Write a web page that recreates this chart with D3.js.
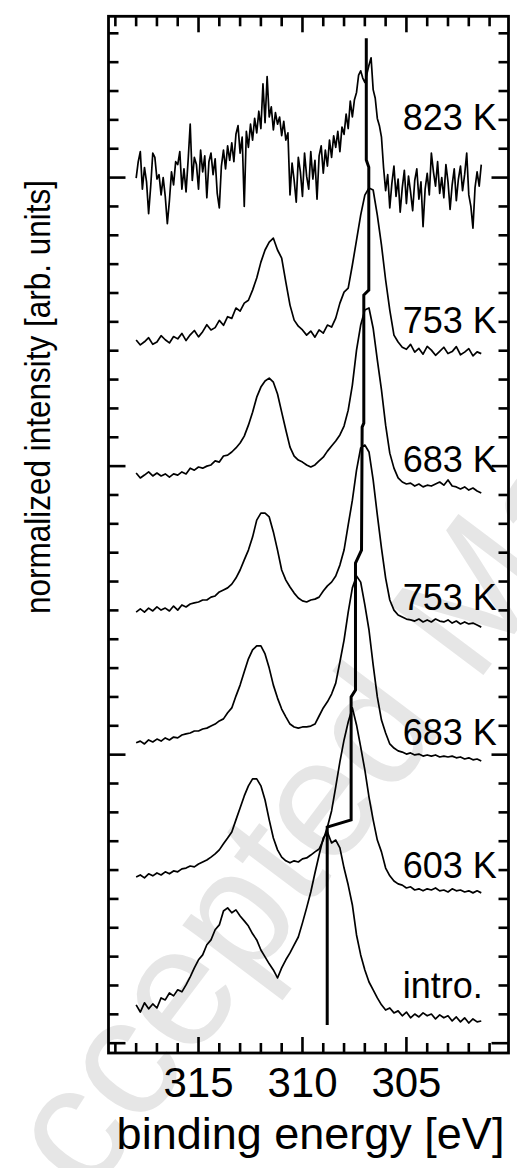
<!DOCTYPE html>
<html>
<head>
<meta charset="utf-8">
<script src="https://cdn.jsdelivr.net/npm/d3@7"></script>
<style>
  html, body { margin: 0; padding: 0; background: #fff; }
  text { font-family: "Liberation Sans", Arial, Helvetica, sans-serif; }
</style>
</head>
<body>
<svg id="chart" width="517" height="1168"></svg>
<script>
// binding energy grids of the spectra (eV), 318.0 down to 301.4
const energy = d3.range(0, 84).map(function(i) { return +(318 - 0.2 * i).toFixed(1); });
const energyFine = d3.range(0, 167).map(function(i) { return +(318 - 0.1 * i).toFixed(1); });

// normalized intensities incl. vertical offset (1 unit = one minor tick)
const spec823 = [29.98,30.55,30.90,29.60,30.35,29.85,28.75,29.70,30.85,30.70,
  29.95,30.10,29.40,30.00,29.35,28.40,29.20,30.20,29.75,30.55,
  30.45,30.90,29.60,30.30,29.50,30.60,31.85,29.90,30.70,30.45,
  29.60,30.95,30.20,30.75,29.30,30.55,30.85,30.10,30.65,29.45,
  28.95,30.40,30.95,30.30,31.10,30.60,31.20,30.55,31.50,31.80,
  30.85,31.40,29.00,31.60,31.05,31.85,31.30,32.05,31.55,32.30,
  31.70,33.25,31.90,33.50,32.10,32.45,31.65,32.25,31.85,32.10,
  31.45,31.95,31.30,31.55,29.40,30.50,29.90,29.15,30.70,30.20,
  29.35,30.85,30.05,29.60,30.90,29.95,30.60,29.25,30.75,31.10,
  30.15,30.95,30.40,31.30,30.70,31.45,31.05,31.60,30.90,31.75,
  31.50,32.20,31.70,32.65,32.10,32.70,32.95,33.55,33.70,33.45,
  33.30,33.60,33.90,34.15,33.05,32.75,32.05,31.80,31.40,30.35,
  29.55,30.10,28.95,29.80,30.40,29.35,29.95,28.80,29.65,30.25,
  29.10,30.05,29.50,28.85,29.90,30.30,29.25,29.85,28.30,29.60,
  30.15,29.40,30.85,30.20,29.70,30.55,29.45,30.00,29.30,30.45,
  29.85,28.90,29.75,30.30,29.20,29.95,30.40,29.55,30.10,30.85,
  29.40,29.00,28.25,29.65,30.20,29.70,30.45];
const spec753a = [24.37,24.20,24.31,24.45,24.22,24.30,24.52,24.38,24.27,24.49,
  24.41,24.60,24.35,24.55,24.70,24.48,24.66,24.90,24.72,24.80,
  25.05,24.88,25.18,25.12,25.48,25.37,25.65,25.75,26.10,26.52,
  27.07,27.49,27.76,27.90,27.49,27.21,26.38,25.58,25.06,24.85,
  24.72,24.54,24.68,24.47,24.72,24.61,24.89,24.82,25.13,25.65,
  26.03,26.17,26.97,27.83,28.70,29.39,29.64,29.57,28.70,27.66,
  26.45,25.41,24.54,24.30,24.12,24.05,24.22,23.95,24.08,23.88,
  24.15,24.02,23.84,23.98,24.12,23.90,23.97,24.14,23.86,23.95,
  24.07,23.82,23.96,23.90];
const spec683a = [19.76,19.59,19.69,19.80,19.66,19.76,19.66,19.73,19.62,19.73,
  19.69,19.80,19.73,19.93,19.86,19.97,19.93,20.00,20.04,20.18,
  20.14,20.35,20.38,20.49,20.63,20.80,21.04,21.42,21.87,22.39,
  22.74,22.95,23.05,22.91,22.50,21.87,21.25,20.66,20.35,20.21,
  20.14,20.04,19.97,20.04,20.18,20.31,20.52,20.70,20.87,21.08,
  21.39,21.94,22.81,24.02,24.89,25.41,25.48,24.78,23.68,22.64,
  21.42,20.45,19.93,19.59,19.45,19.38,19.41,19.31,19.38,19.28,
  19.34,19.31,19.38,19.45,19.34,19.52,19.31,19.28,19.21,19.28,
  19.17,19.24,19.14,19.07];
const spec753b = [14.94,15.05,14.94,15.08,14.98,15.12,15.01,15.08,14.98,15.15,
  15.01,15.19,15.12,15.22,15.26,15.29,15.36,15.36,15.46,15.50,
  15.64,15.71,15.78,15.91,16.12,16.40,16.75,17.09,17.54,18.13,
  18.37,18.37,18.24,17.72,17.09,16.40,16.05,15.81,15.60,15.43,
  15.33,15.29,15.36,15.39,15.46,15.67,15.85,15.98,16.19,16.57,
  17.09,17.96,18.82,19.86,20.63,20.73,20.49,19.52,18.31,17.16,
  16.12,15.36,15.01,14.84,14.77,14.70,14.67,14.63,14.70,14.60,
  14.67,14.60,14.70,14.63,14.60,14.67,14.56,14.63,14.53,14.60,
  14.53,14.56,14.49,14.42];
const spec683b = [10.41,10.47,10.37,10.51,10.44,10.54,10.47,10.58,10.51,10.61,
  10.58,10.68,10.72,10.75,10.82,10.82,10.89,10.92,10.99,11.06,
  11.17,11.24,11.45,11.62,12.03,12.41,12.87,13.32,13.63,13.77,
  13.77,13.49,13.00,12.41,11.96,11.58,11.31,11.06,10.96,10.92,
  10.96,10.96,10.99,11.06,11.34,11.62,11.83,12.10,12.48,13.21,
  13.97,14.94,15.78,16.19,15.98,15.19,14.32,13.11,12.00,11.20,
  10.75,10.37,10.23,10.13,10.09,10.02,10.06,9.99,10.02,9.95,
  9.99,9.95,9.99,9.92,9.95,9.92,9.95,9.89,9.92,9.85,
  9.89,9.82,9.85,9.78];
const spec603 = [5.76,5.83,5.73,5.87,5.80,5.90,5.83,5.94,5.87,5.97,
  5.94,6.04,6.07,6.14,6.11,6.21,6.28,6.35,6.45,6.56,
  6.70,6.91,7.11,7.32,7.74,8.15,8.57,8.92,9.16,9.16,
  8.92,8.43,7.74,7.11,6.70,6.45,6.32,6.25,6.32,6.28,
  6.39,6.42,6.52,6.63,6.73,7.04,7.49,8.05,8.88,9.75,
  10.51,11.13,11.62,11.03,10.27,9.47,8.53,7.74,7.04,6.63,
  6.07,5.80,5.62,5.52,5.48,5.38,5.42,5.31,5.35,5.28,
  5.35,5.31,5.38,5.28,5.31,5.24,5.35,5.28,5.31,5.24,
  5.28,5.21,5.28,5.21];
const specIntro = [1.33,1.08,1.40,1.19,1.36,1.22,1.57,1.50,1.74,1.64,
  1.85,1.78,2.02,2.30,2.61,2.89,3.06,3.41,3.58,3.93,
  4.10,4.58,4.69,4.52,4.62,4.41,4.24,4.06,3.79,3.58,
  3.23,2.99,2.75,2.54,2.26,2.61,2.89,3.13,3.41,3.68,
  4.17,4.69,5.24,5.90,6.52,7.11,7.32,6.94,7.04,6.77,
  6.07,5.48,4.79,3.75,3.06,2.54,2.12,1.85,1.57,1.33,
  1.15,1.22,1.05,1.12,0.95,1.08,0.88,1.01,0.91,1.05,
  0.95,1.01,0.84,0.98,0.88,0.95,0.77,0.91,0.74,0.88,
  0.70,0.84,0.74,0.77];

// temperature labels and the height at which each one sits
const labels = ["823 K", "753 K", "683 K", "753 K", "683 K", "603 K", "intro."];
const labelLevel = [31.65, 24.61, 19.80, 15.01, 10.34, 5.73, 1.57];
const labelEnergy = 305.18;

// peak position track (eV, intensity)
const trackEnergy = [306.93, 306.93, 306.81, 306.81, 307.05, 307.05, 307.13,
  307.16, 307.45, 307.45, 307.66, 307.66, 308.81, 308.81];
const trackLevel = [34.83, 30.61, 30.36, 26.10, 25.93, 21.49, 21.35,
  17.09, 16.64, 12.24, 12.00, 7.74, 7.49, 0.63];

const xTickValues = d3.range(301, 320);
const xTickLabels = [315, 310, 305];
const yTickValues = d3.range(0, 36);

const spectra = [
  {grid: energyFine, values: spec823},
  {grid: energy, values: spec753a},
  {grid: energy, values: spec683a},
  {grid: energy, values: spec753b},
  {grid: energy, values: spec683b},
  {grid: energy, values: spec603},
  {grid: energy, values: specIntro}
];

let svg = d3.select("#chart");

let plotLeft = 108.5, plotRight = 508.5, plotTop = 16.3, plotBottom = 1053;

let x = d3.scaleLinear().domain([319.33, 300.09]).range([plotLeft, plotRight]);
let y = d3.scaleLinear().domain([-0.34, 35.59]).range([plotBottom, plotTop]);

// watermark in the background
svg.append("text")
  .attr("transform", "translate(20,1290) rotate(-53)")
  .attr("font-size", 170)
  .attr("fill", "#e6e6e6")
  .text("Accepted Manuscript");

svg.append("g").selectAll("path")
  .data(spectra)
  .enter().append("path")
  .attr("d", function(s) {
    return d3.line()
      .x(function(d, i) { return x(s.grid[i]); })
      .y(function(d) { return y(d); })(s.values);
  })
  .attr("fill", "none")
  .attr("stroke", "#000")
  .attr("stroke-width", 1.7)
  .attr("stroke-linejoin", "round");

let track = d3.line()
  .x(function(d, i) { return x(trackEnergy[i]); })
  .y(function(d) { return y(d); });

svg.append("path")
  .attr("d", track(trackLevel))
  .attr("fill", "none")
  .attr("stroke", "#000")
  .attr("stroke-width", 3);

svg.append("g").selectAll("text")
  .data(labels)
  .enter().append("text")
  .attr("x", x(labelEnergy))
  .attr("y", function(d, i) { return y(labelLevel[i]); })
  .attr("font-size", 36)
  .attr("fill", "#000")
  .text(function(d) { return d; });

// ticks on all four sides, pointing inwards
let ticks = svg.append("g").attr("stroke", "#000").attr("stroke-width", 2.6);

xTickValues.forEach(function(v) {
  let len = v % 5 === 0 ? 16 : 10;
  ticks.append("line").attr("x1", x(v)).attr("x2", x(v)).attr("y1", plotBottom).attr("y2", plotBottom - len);
  ticks.append("line").attr("x1", x(v)).attr("x2", x(v)).attr("y1", plotTop).attr("y2", plotTop + len);
});

yTickValues.forEach(function(v) {
  let len = v % 10 === 0 ? 17 : 10;
  ticks.append("line").attr("y1", y(v)).attr("y2", y(v)).attr("x1", plotLeft).attr("x2", plotLeft + len);
  ticks.append("line").attr("y1", y(v)).attr("y2", y(v)).attr("x1", plotRight).attr("x2", plotRight - len);
});

svg.append("rect")
  .attr("x", plotLeft).attr("y", plotTop)
  .attr("width", plotRight - plotLeft).attr("height", plotBottom - plotTop)
  .attr("fill", "none")
  .attr("stroke", "#000")
  .attr("stroke-width", 2.8);

svg.append("g").selectAll("text")
  .data(xTickLabels)
  .enter().append("text")
  .attr("x", function(d) { return x(d); })
  .attr("y", 1097)
  .attr("text-anchor", "middle")
  .attr("font-size", 42)
  .text(function(d) { return d; });

svg.append("text")
  .attr("x", (plotLeft + plotRight) / 2 + 2)
  .attr("y", 1149)
  .attr("text-anchor", "middle")
  .attr("font-size", 45)
  .text("binding energy [eV]");

svg.append("text")
  .attr("transform", "translate(50,397) rotate(-90) scale(0.9,1)")
  .attr("text-anchor", "middle")
  .attr("font-size", 35)
  .text("normalized intensity [arb. units]");
</script>
</body>
</html>
